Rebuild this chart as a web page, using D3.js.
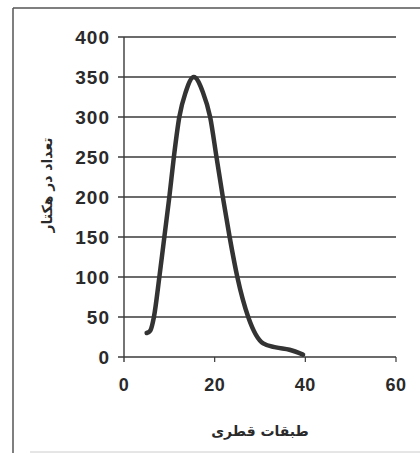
<!DOCTYPE html>
<html><head><meta charset="utf-8">
<script src="https://cdn.jsdelivr.net/npm/d3@7"></script>
<style>
html,body{margin:0;padding:0;background:#fff;}
svg{display:block;}
</style></head>
<body>
<svg id="c" width="420" height="453"></svg>
<script>
const diameterClass = [5.0, 5.8, 6.6, 7.8, 8.9, 10.0, 11.0, 12.2, 13.6, 15.4, 17.4, 19.0, 20.4, 21.8, 23.3, 25.0, 27.4, 30.7, 33.5, 36.5, 39.5];
const perHectare    = [30, 33, 50, 100, 150, 200, 250, 300, 331, 350, 331, 300, 250, 200, 150, 100, 50, 17, 12, 9, 3];
const yTicks = [0, 50, 100, 150, 200, 250, 300, 350, 400];
const xTicks = [0, 20, 40, 60];
const xTitle = "طبقات قطری";
const yTitle = "تعداد در هکتار";

const svg = d3.select("#c");
const x = d3.scaleLinear().domain([0, 60]).range([124, 396]);
const y = d3.scaleLinear().domain([0, 400]).range([357, 37]);
const ink = "#2a2a2a";

// frame
svg.append("line").attr("x1",13).attr("x2",420).attr("y1",8).attr("y2",8).attr("stroke","#555").attr("stroke-width",1.5);
svg.append("line").attr("x1",13).attr("x2",13).attr("y1",8).attr("y2",453).attr("stroke","#555").attr("stroke-width",1.5);
svg.append("line").attr("x1",30).attr("x2",420).attr("y1",452).attr("y2",452).attr("stroke","#ccc").attr("stroke-width",1);

// gridlines + y ticks
svg.append("g").selectAll("line").data(yTicks).join("line")
  .attr("x1", x(0) - 6).attr("x2", x(60))
  .attr("y1", d => y(d)).attr("y2", d => y(d))
  .attr("stroke", "#3a3a3a").attr("stroke-width", 1.4);

// y axis line
svg.append("line").attr("x1",x(0)).attr("x2",x(0)).attr("y1",y(400)).attr("y2",y(0)+5)
  .attr("stroke","#3a3a3a").attr("stroke-width",1.4);

// x ticks
svg.append("g").selectAll("line").data(xTicks.slice(1)).join("line")
  .attr("x1", d => x(d)).attr("x2", d => x(d))
  .attr("y1", y(0)).attr("y2", y(0) + 5)
  .attr("stroke", "#3a3a3a").attr("stroke-width", 1.2);

// y tick labels
svg.append("g").selectAll("text").data(yTicks).join("text")
  .attr("x", x(0) - 14).attr("y", d => y(d) + 7)
  .attr("text-anchor","end")
  .attr("font-family","Liberation Sans, Arial, sans-serif")
  .attr("font-weight","bold").attr("font-size",19).attr("letter-spacing","1")
  .attr("fill", ink)
  .text(d => d);

// x tick labels
svg.append("g").selectAll("text").data(xTicks).join("text")
  .attr("x", d => x(d)).attr("y", y(0) + 34)
  .attr("text-anchor","middle")
  .attr("font-family","Liberation Sans, Arial, sans-serif")
  .attr("font-weight","bold").attr("font-size",18).attr("letter-spacing","0.5")
  .attr("fill", ink)
  .text(d => d);

// titles
svg.append("text").attr("x", 260).attr("y", 436).attr("text-anchor","middle")
  .attr("font-family","DejaVu Sans, Noto Sans, sans-serif").attr("font-weight","bold").attr("font-size",14)
  .attr("fill", ink).attr("direction","rtl").text(xTitle);
svg.append("text").attr("transform","translate(52,185) rotate(-90)").attr("text-anchor","middle")
  .attr("font-family","DejaVu Sans, Noto Sans, sans-serif").attr("font-weight","bold").attr("font-size",14)
  .attr("fill", ink).attr("direction","rtl").text(yTitle);

// curve
const pts = diameterClass.map((d, i) => [d, perHectare[i]]);
svg.append("path").datum(pts)
  .attr("fill","none").attr("stroke","#333").attr("stroke-width",4.5)
  .attr("stroke-linecap","round").attr("stroke-linejoin","round")
  .attr("d", d3.line().x(d => x(d[0])).y(d => y(d[1])).curve(d3.curveMonotoneX));
</script>
</body></html>
